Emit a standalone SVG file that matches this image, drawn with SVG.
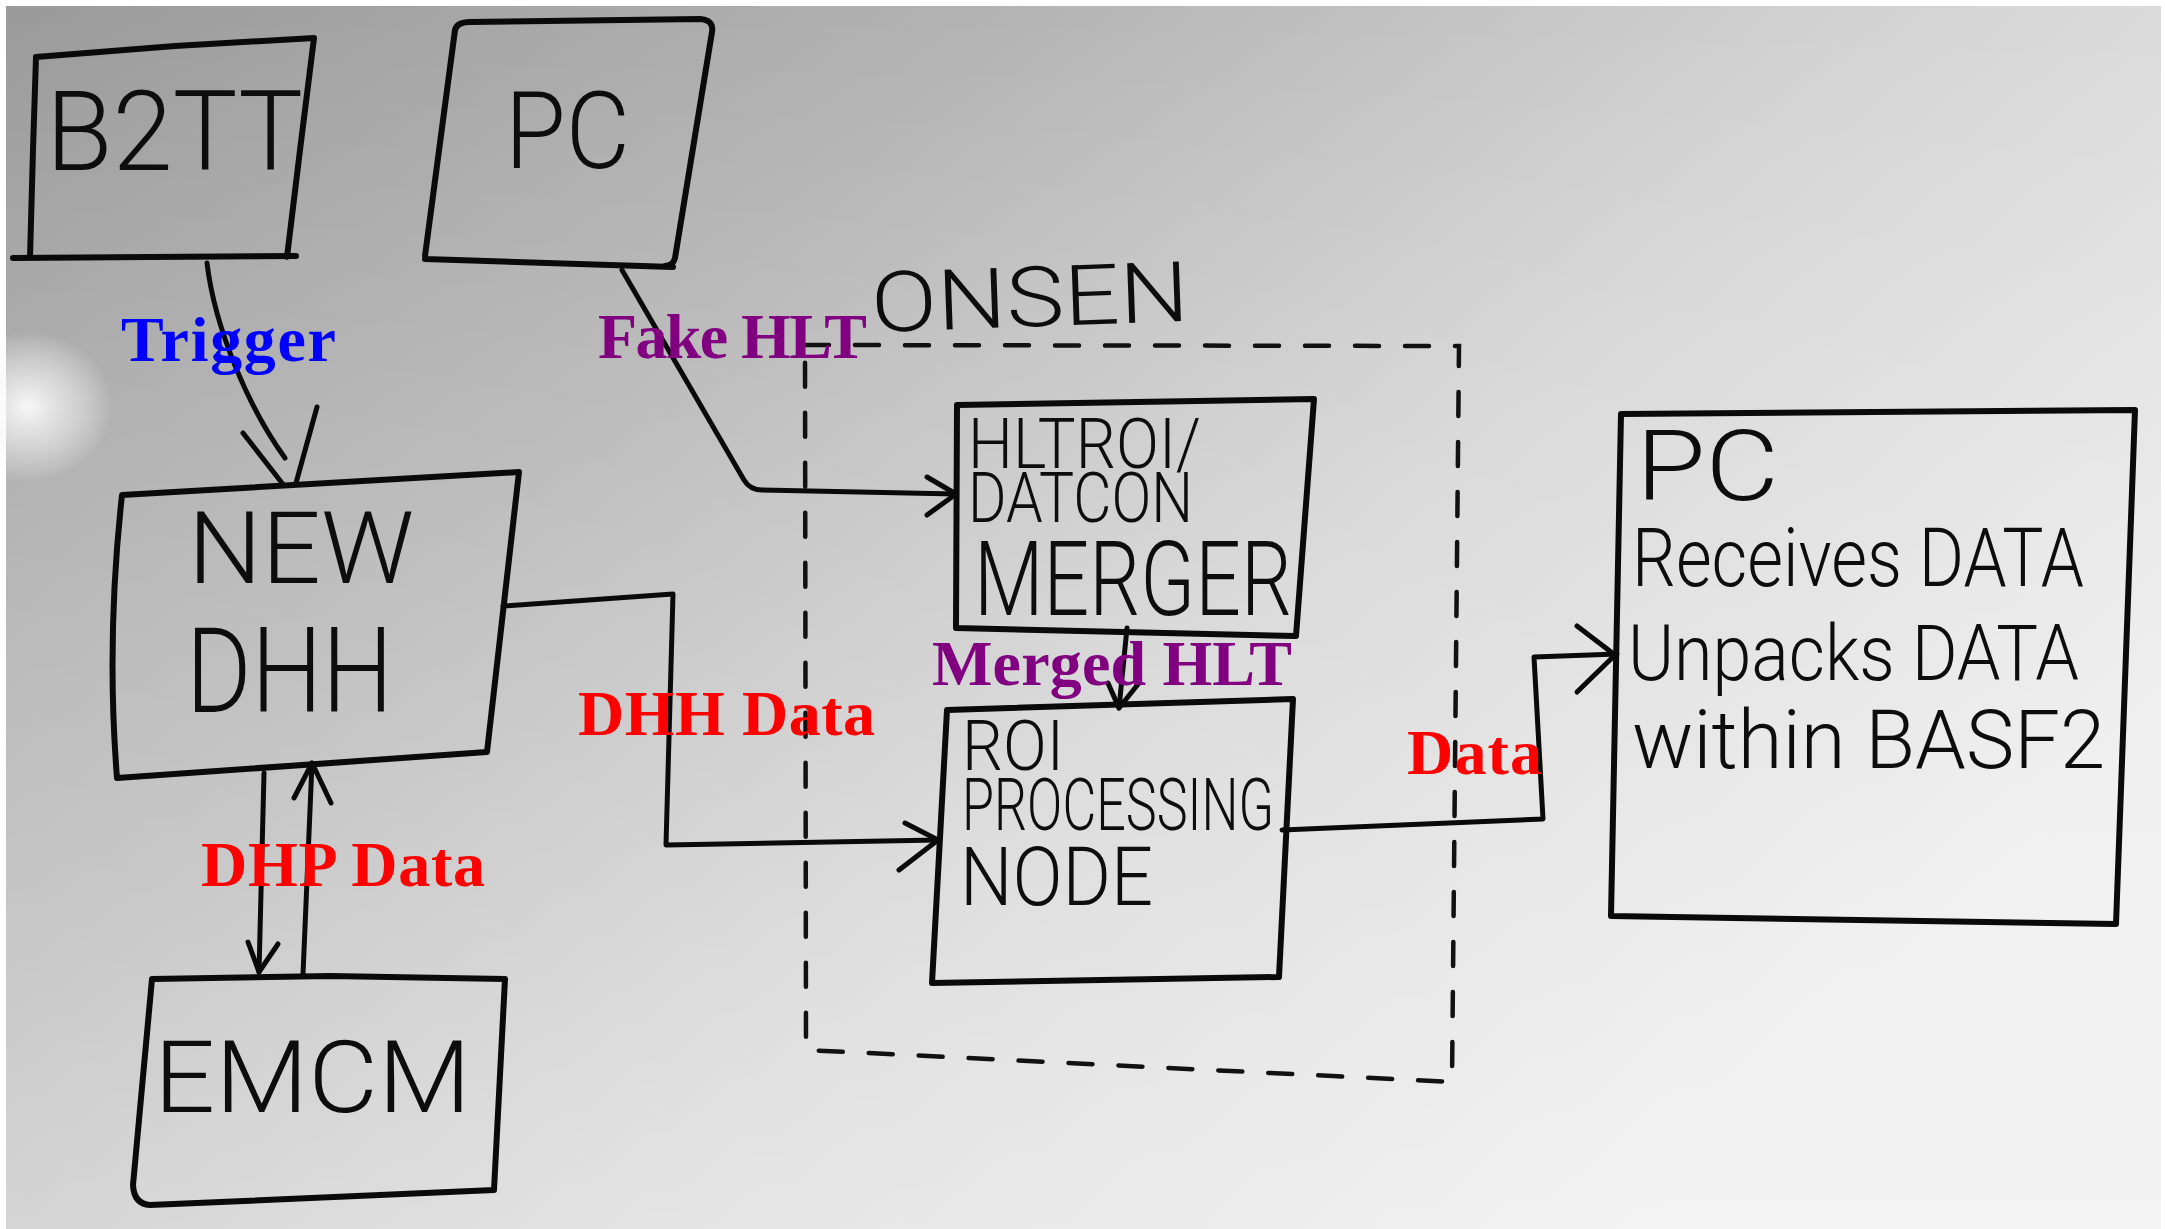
<svg xmlns="http://www.w3.org/2000/svg" width="2165" height="1229" viewBox="0 0 2165 1229">
<defs>
<linearGradient id="bg" x1="0" y1="0" x2="1" y2="0.6">
<stop offset="0" stop-color="#9a9a9a"/>
<stop offset="0.35" stop-color="#b4b4b4"/>
<stop offset="0.65" stop-color="#d4d4d4"/>
<stop offset="1" stop-color="#ececec"/>
</linearGradient>
<linearGradient id="bg2" x1="0" y1="0" x2="0" y2="1">
<stop offset="0" stop-color="#ffffff" stop-opacity="0"/>
<stop offset="1" stop-color="#ffffff" stop-opacity="0.35"/>
</linearGradient>
<radialGradient id="glare" cx="0.5" cy="0.5" r="0.5">
<stop offset="0" stop-color="#ffffff" stop-opacity="0.9"/>
<stop offset="0.5" stop-color="#f4f4f4" stop-opacity="0.55"/>
<stop offset="1" stop-color="#ffffff" stop-opacity="0"/>
</radialGradient>
<style>
.box{fill:none;stroke:#0a0a0a;stroke-width:6;stroke-linejoin:round;stroke-linecap:round}
.line{fill:none;stroke:#0a0a0a;stroke-width:5;stroke-linejoin:round;stroke-linecap:round}
.dash{fill:none;stroke:#111;stroke-width:4.5;stroke-dasharray:24 26;stroke-linecap:round}
.hand{font-family:Roboto,"Liberation Sans","DejaVu Sans",sans-serif;font-weight:300;fill:#0d0d0d}
.lbl{font-family:"Liberation Serif","DejaVu Serif",serif;font-weight:bold;font-size:64px}
</style>
</defs>
<rect x="0" y="0" width="2165" height="1229" fill="#ffffff"/>
<rect x="6" y="6" width="2155" height="1223" fill="url(#bg)"/>
<rect x="6" y="6" width="2155" height="1223" fill="url(#bg2)"/>
<ellipse cx="28" cy="407" rx="85" ry="75" fill="url(#glare)"/>

<g id="b2tt">
<path class="box" d="M36,57 L175,46 L314,38 L300,150 L287,257 M13,258 L150,257 L296,256 M30,258 L33,150 L36,57"/>
<text class="hand" x="46" y="170" font-size="112" textLength="257" lengthAdjust="spacingAndGlyphs">B2TT</text>
</g>
<g id="pc_top">
<path class="box" d="M455,30 Q457,22 470,22 L700,19 Q714,20 712,32 L675,258 Q673,266 665,266 M425,259 L673,267 M425,256 L455,30"/>
<text class="hand" x="505" y="168" font-size="108" textLength="125" lengthAdjust="spacingAndGlyphs">PC</text>
</g>
<g id="new_dhh">
<path class="box" d="M122,495 L519,472 L487,752 L117,778 Q106,640 122,495 Z"/>
<text class="hand" x="188" y="583" font-size="100" textLength="226" lengthAdjust="spacingAndGlyphs">NEW</text>
<text class="hand" x="186" y="712" font-size="118" textLength="207" lengthAdjust="spacingAndGlyphs">DHH</text>
</g>
<g id="emcm">
<path class="box" d="M152,979 L330,976 L505,979 L494,1190 L150,1205 Q134,1204 133,1185 L152,979"/>
<text class="hand" x="154" y="1112" font-size="100" textLength="317" lengthAdjust="spacingAndGlyphs">EMCM</text>
</g>
<g id="onsen">
<path class="dash" d="M805,345 L1459,346 L1452,1082 L806,1050 Z"/>
<text class="hand" x="872" y="332" font-size="84" textLength="318" lengthAdjust="spacingAndGlyphs" transform="rotate(-2 872 332)">ONSEN</text>
</g>
<g id="merger">
<path class="box" d="M957,405 L1314,399 L1296,636 L956,628 Z"/>
<text class="hand" x="968" y="468" font-size="70" textLength="233" lengthAdjust="spacingAndGlyphs">HLTROI/</text>
<text class="hand" x="968" y="522" font-size="70" textLength="225" lengthAdjust="spacingAndGlyphs">DATCON</text>
<text class="hand" x="974" y="615" font-size="104" textLength="318" lengthAdjust="spacingAndGlyphs">MERGER</text>
</g>
<g id="roi_node">
<path class="box" d="M947,710 L1293,699 L1279,977 L932,983 Z"/>
<text class="hand" x="962" y="770" font-size="70" textLength="102" lengthAdjust="spacingAndGlyphs">ROI</text>
<text class="hand" x="962" y="830" font-size="72" textLength="312" lengthAdjust="spacingAndGlyphs">PROCESSING</text>
<text class="hand" x="960" y="905" font-size="82" textLength="193" lengthAdjust="spacingAndGlyphs">NODE</text>
</g>
<g id="pc_right">
<path class="box" d="M1621,414 L2135,410 L2116,924 L1611,916 Z"/>
<text class="hand" x="1636" y="500" font-size="98" textLength="143" lengthAdjust="spacingAndGlyphs">PC</text>
<text class="hand" x="1632" y="586" font-size="82" textLength="452" lengthAdjust="spacingAndGlyphs">Receives DATA</text>
<text class="hand" x="1628" y="680" font-size="78" textLength="451" lengthAdjust="spacingAndGlyphs">Unpacks DATA</text>
<text class="hand" x="1632" y="768" font-size="82" textLength="473" lengthAdjust="spacingAndGlyphs">within BASF2</text>
</g>

<g id="connectors">
<path class="line" d="M207,263 C215,330 250,410 285,458"/>
<path class="line" d="M243,433 L282,483 M317,407 L296,483"/>
<path class="line" d="M622,270 L744,480 Q750,490 762,490 L956,494"/>
<path class="line" d="M927,477 L956,494 L927,515"/>
<path class="line" d="M503,606 L673,594 L666,845 L938,840"/>
<path class="line" d="M905,823 L938,840 L899,870"/>
<path class="line" d="M1127,628 L1119,708"/>
<path class="line" d="M1108,683 L1119,708 L1139,683"/>
<path class="line" d="M1282,830 L1543,819 L1534,657 L1617,654"/>
<path class="line" d="M1577,626 L1615,655 L1577,692"/>
<path class="line" d="M264,773 L259,972"/>
<path class="line" d="M248,942 L259,972 L278,944"/>
<path class="line" d="M303,974 L312,763"/>
<path class="line" d="M294,798 L312,763 L331,803"/>
</g>

<g id="labels">
<text class="lbl" x="121" y="361" fill="#0000ff" textLength="215">Trigger</text>
<text class="lbl" x="598" y="358" fill="#800080" textLength="269">Fake HLT</text>
<text class="lbl" x="578" y="735" fill="#ff0000" textLength="297">DHH Data</text>
<text class="lbl" x="932" y="685" fill="#800080" textLength="360">Merged HLT</text>
<text class="lbl" x="201" y="886" fill="#ff0000" textLength="284">DHP Data</text>
<text class="lbl" x="1407" y="774" fill="#ff0000" textLength="135">Data</text>
</g>
</svg>
